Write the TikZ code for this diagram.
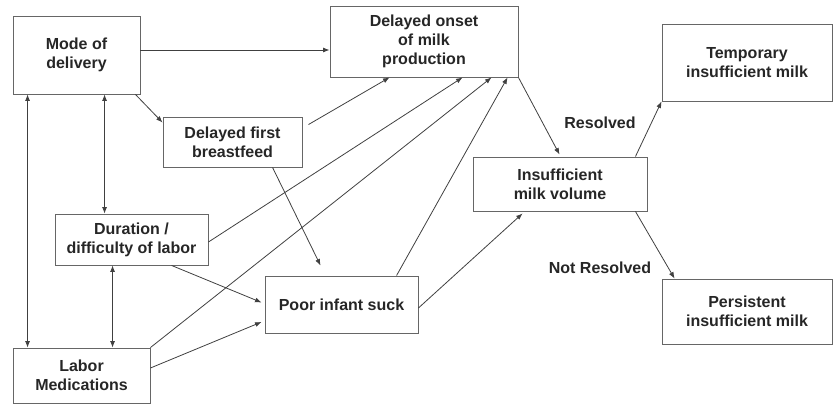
\documentclass[tikz,border=0pt]{standalone}
\usepackage{fontspec}
\setmainfont{Liberation Sans}
\usetikzlibrary{shapes,arrows.meta,calc}
\tikzstyle{box} = [rectangle, align=center, font=\bfseries\fontsize{16}{19}\selectfont, text=black!85, draw=black!60, line width=0.9pt]
\tikzstyle{lbl} = [font=\bfseries\fontsize{16}{19}\selectfont, text=black!85]
\tikzstyle{arrow} = [draw, -{Latex[length=6.5pt,width=5pt]}, line width=0.8pt, black!75]
\tikzstyle{twoway} = [draw, {Latex[length=6.5pt,width=5pt]}-{Latex[length=6.5pt,width=5pt]}, line width=0.8pt, black!75]

\begin{document}
\begin{tikzpicture}[x=1pt, y=-1pt]
        \useasboundingbox (0,0) rectangle (833,404);
        \node (mode) [box, minimum width=127pt, minimum height=78pt] at (76.5,55) {Mode of\\delivery};
        \node (breastfeed) [box, minimum width=139pt, minimum height=50pt] at (232.5,142) {Delayed first\\breastfeed};
        \node (onset) [box, minimum width=188pt, minimum height=71pt] at (424,41.5) {Delayed onset\\of milk\\production};
        \node (temporary) [box, minimum width=170pt, minimum height=77pt] at (747,62.5) {Temporary\\insufficient milk};
        \node (insufficient) [box, minimum width=174pt, minimum height=54pt] at (560,184) {Insufficient\\milk volume};
        \node (duration) [box, minimum width=153pt, minimum height=51pt] at (131.5,239.5) {Duration /\\difficulty of labor};
        \node (labor) [box, minimum width=137pt, minimum height=55pt] at (81.5,375.5) {Labor\\Medications};
        \node (poor) [box, minimum width=153pt, minimum height=57pt] at (341.5,304.5) {Poor infant suck};
        \node (persistent) [box, minimum width=170pt, minimum height=65pt] at (747,311.5) {Persistent\\insufficient milk};

        \node (resolved) [lbl] at (600,123) {Resolved};
        \node (notresolved) [lbl] at (600,268) {Not Resolved};

        \path [arrow] ($(mode.east)+(0,-5)$) -- ($(onset.west)+(0,8.5)$);
        \path [arrow] ($(mode.south east)+(-5,0)$) -- ($(breastfeed.north west)+(0,6)$);
        \path [twoway] ($(mode.south west)+(15,0)$) -- ($(labor.north west)+(15,0)$);
        \path [twoway] ($(mode.south west)+(92,0)$) -- ($(duration.north west)+(50,0)$);
        \path [twoway] ($(duration.south west)+(58,0)$) -- ($(labor.north west)+(100,0)$);
        \path [arrow] ($(breastfeed.north east)+(6,8)$) -- ($(onset.south west)+(60,0)$);
        \path [arrow] ($(breastfeed.south west)+(110,0)$) -- ($(poor.north west)+(56,-10)$);
        \path [arrow] ($(duration.east)+(0,2.5)$) -- ($(onset.south west)+(133,0)$);
        \path [arrow] (labor.north east) -- ($(onset.south west)+(162,0)$);
        \path [arrow] ($(poor.north west)+(132,0)$) -- ($(onset.south west)+(178,0)$);
        \path [arrow] ($(duration.south west)+(117,0)$) -- ($(poor.west)+(-3,-2)$);
        \path [arrow] ($(labor.east)+(0,-7.5)$) -- ($(poor.west)+(-3,17.5)$);
        \path [arrow] ($(poor.east)+(0,3.5)$) -- ($(insufficient.south west)+(50,2)$);
        \path [arrow] (onset.south east) -- ($(insufficient.north west)+(87,-2)$);
        \path [arrow] ($(insufficient.north east)+(-12,0)$) -- (temporary.south west);
        \path [arrow] ($(insufficient.south east)+(-12,0)$) -- ($(persistent.north west)+(13,0)$);
    \end{tikzpicture}
\end{document}
